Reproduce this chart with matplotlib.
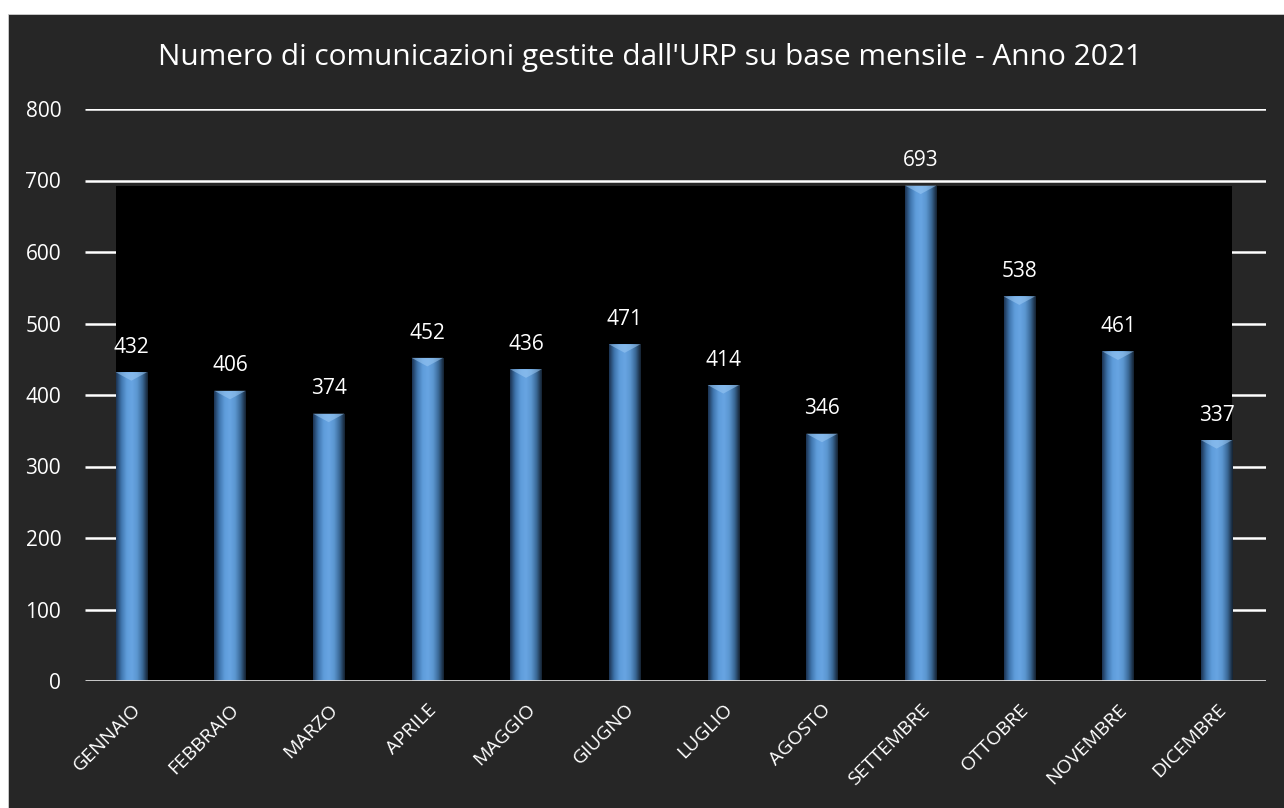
import numpy as np
import matplotlib
matplotlib.use("Agg")
import matplotlib.pyplot as plt
from matplotlib.colors import LinearSegmentedColormap

months = ["GENNAIO", "FEBBRAIO", "MARZO", "APRILE", "MAGGIO", "GIUGNO",
          "LUGLIO", "AGOSTO", "SETTEMBRE", "OTTOBRE", "NOVEMBRE", "DICEMBRE"]
values = [432, 406, 374, 452, 436, 471, 414, 346, 693, 538, 461, 337]
yticks = [0, 100, 200, 300, 400, 500, 600, 700, 800]
title = "Numero di comunicazioni gestite dall'URP su base mensile - Anno 2021"

plt.rcParams['font.family'] = ['Open Sans', 'DejaVu Sans']
BG = "#262626"
W, H = 1284, 808

fig = plt.figure(figsize=(W / 100, H / 100), dpi=100, facecolor="white")
# dark chart area with a thin white margin on top and left
fig.patches.append(plt.Rectangle((8 / W, 0), 1 - 8 / W, 1 - 14 / H,
                                 transform=fig.transFigure, facecolor=BG,
                                 edgecolor="#d0d0d0", lw=0.6, zorder=-10))

ax = fig.add_axes([82 / W, 1 - 681 / H, (1266 - 82) / W, (681 - 109) / H])
ax.set_facecolor("none")

x = np.arange(len(months))
width = 0.32
ax.set_xlim(-0.5, len(months) - 0.5)
ax.set_ylim(0, 800)

# gridlines
for t in yticks[1:]:
    ax.plot([-0.47, len(months) - 0.5], [t, t], color="white", lw=1.8, zorder=1,
            solid_capstyle="butt")
ax.plot([-0.47, len(months) - 0.5], [0, 0], color="#d9d9d9", lw=2, zorder=5,
        solid_capstyle="butt")

# black back panel behind bars (bounding box of the bars)
left = x[0] - width / 2
right = x[-1] + width / 2
ax.add_patch(plt.Rectangle((left, 0), right - left, max(values),
                           facecolor="black", edgecolor="none", zorder=2))

bars = ax.bar(x, values, width=width, color="#5b9bd5", zorder=3)

cmap = LinearSegmentedColormap.from_list(
    "cyl", ["#1a3150", "#3f75ad", "#5e9cda", "#68a5e3", "#5b96d0", "#3a6896", "#13202f"])
grad = np.linspace(0, 1, 256).reshape(1, -1)
for b, v in zip(bars, values):
    x0 = b.get_x()
    w = b.get_width()
    im = ax.imshow(grad, cmap=cmap, aspect="auto",
                   extent=(x0, x0 + w, 0, v), zorder=4, interpolation="bicubic")
    im.set_clip_path(b)
    b.set_alpha(0)
    # top bevel
    bev = 12
    ax.fill([x0, x0 + w, x0 + w * 0.5], [v, v, v - bev], color="#9ccaf5",
            alpha=0.55, zorder=4.5, lw=0)
    ax.text(b.get_x() + w / 2, v + 20, f"{v}", ha="center", va="bottom",
            color="white", fontsize=15, zorder=6)

ax.set_yticks(yticks)
ax.set_yticklabels([str(t) for t in yticks])
ax.set_xticks(x)
ax.set_xticklabels(months, rotation=45, ha="right", rotation_mode="anchor")
ax.tick_params(axis="y", length=0, pad=15, colors="white", labelsize=15)
ax.tick_params(axis="x", length=0, pad=14, colors="white", labelsize=14)
for s in ax.spines.values():
    s.set_visible(False)

fig.text(0.506, 1 - 57 / H, title, ha="center", va="center", color="white", fontsize=21.5)

fig.savefig("out.png", dpi=100, facecolor="white")
